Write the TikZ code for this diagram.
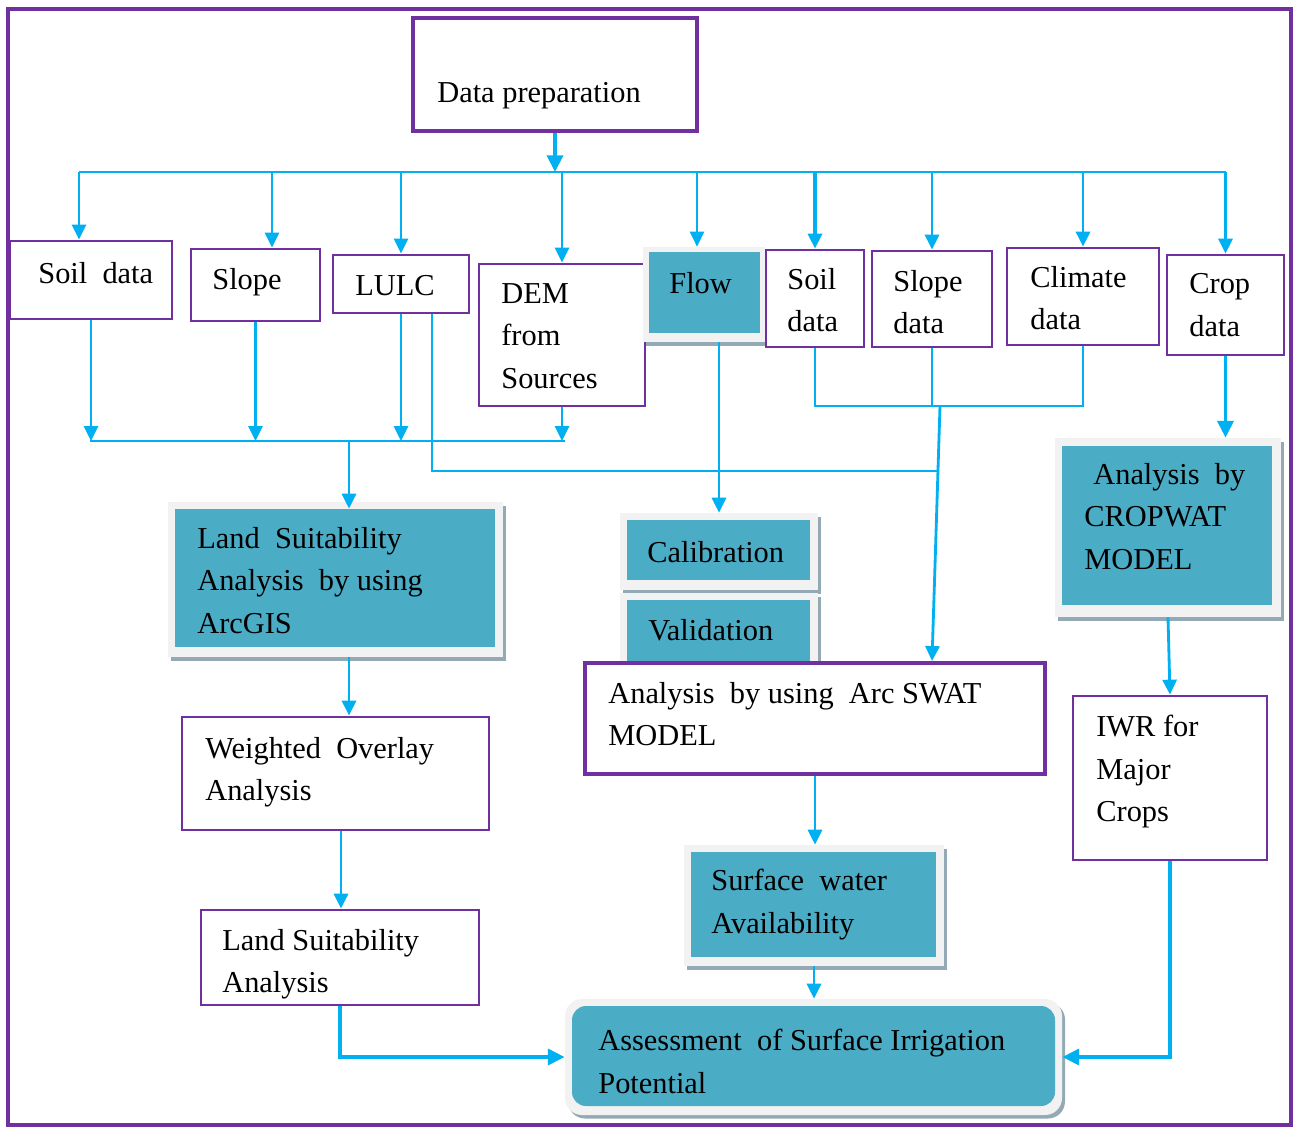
\documentclass[tikz,border=0pt]{standalone}
\usepackage{fontspec}
\setmainfont{Liberation Serif}
\usetikzlibrary{arrows.meta,fit,shadows}
\definecolor{pur}{HTML}{7030A0}
\definecolor{arrb}{HTML}{00B0F0}
\definecolor{tealf}{HTML}{4BACC6}
\definecolor{pgray}{HTML}{F2F2F2}
\definecolor{shad}{HTML}{93A9B5}
\begin{document}
\begin{tikzpicture}[x=0.02cm,y=-0.02cm,
 wbox/.style={draw=pur,line width=1.6pt,fill=white,inner sep=0pt},
 tbox/.style={draw=pur,line width=2.8pt,fill=white,inner sep=0pt},
 panel/.style={fill=pgray,inner sep=0pt,drop shadow={shadow xshift=0.06cm,shadow yshift=-0.07cm,fill=shad,opacity=1}},
 rpanel/.style={panel,rounded corners=0.34cm},
 tealbox/.style={fill=tealf,inner sep=0pt},
 txt/.style={anchor=north west,inner sep=0pt,align=left,font=\fontsize{17.3}{24.2}\selectfont,execute at begin node={\rule{0pt}{0.48cm}}},
 ln/.style={draw=arrb,line width=1.3pt},
 arr/.style={ln,-{Triangle[length=8.5pt,width=8pt]}},
 arrT/.style={draw=arrb,line width=2.2pt,-{Triangle[length=9.5pt,width=9pt]}},
]
\useasboundingbox (0,0) rectangle (1295,1127);
\node[draw=pur,line width=2.8pt,inner sep=0pt,fit={(8,9)(1291,1125)}] (frame) {};

% --- top
\node[tbox,fit={(413,18)(697,131)}] (dp) {};
\node[txt] (dpt) at (437,78) {Data preparation};

% --- data row
\node[wbox,fit={(10,241)(172,319)}] (soil) {};
\node[txt] (soilt) at (38,259) {Soil\ \ data};
\node[wbox,fit={(191,249)(320,321)}] (slope) {};
\node[txt] (slopet) at (212,265) {Slope};
\node[wbox,fit={(333,255)(469,313)}] (lulc) {};
\node[txt] (lulct) at (355,271) {LULC};
\node[wbox,fit={(479,264)(645,406)}] (dem) {};
\node[txt] (demt) at (501,283) {DEM\\from\\Sources};
\node[panel,fit={(643,247)(765,342)}] (flowP) {};
\node[tealbox,fit={(649,252)(760,333)}] (flow) {};
\node[txt] (flowt) at (669,269) {Flow};
\node[wbox,fit={(766,250)(864,347)}] (soil2) {};
\node[txt] (soil2t) at (787,268) {Soil\\data};
\node[wbox,fit={(872,251)(992,347)}] (slope2) {};
\node[txt] (slope2t) at (893,270) {Slope\\data};
\node[wbox,fit={(1007,248)(1159,345)}] (clim) {};
\node[txt] (climt) at (1030,266) {Climate\\data};
\node[wbox,fit={(1167,255)(1284,355)}] (crop) {};
\node[txt] (cropt) at (1189,273) {Crop\\data};

% --- left column
\node[panel,fit={(168,502)(503,657)}] (lsaP) {};
\node[tealbox,fit={(175,509)(495,647)}] (lsa) {};
\node[txt] (lsat) at (197,527) {Land\ \ Suitability\\Analysis\ \ by using\\ArcGIS};
\node[wbox,fit={(182,717)(489,830)}] (wo) {};
\node[txt] (wot) at (205,737) {Weighted\ \ Overlay\\Analysis};
\node[wbox,fit={(201,910)(479,1005)}] (ls) {};
\node[txt] (lst) at (222,929) {Land Suitability\\Analysis};

% --- middle column
\node[panel,fit={(620,513)(818,590)}] (calP) {};
\node[tealbox,fit={(627,520)(810,580)}] (cal) {};
\node[txt] (calt) at (647,538) {Calibration};
\node[panel,fit={(620,593)(818,665)}] (valP) {};
\node[tealbox,fit={(627,600)(810,665)}] (val) {};
\node[txt] (valt) at (648,616) {Validation};
\node[tbox,line width=2.3pt,fit={(585,663)(1045,774)}] (swat) {};
\node[txt] (swatt) at (608,682) {Analysis\ \ by using\ \ Arc SWAT\\MODEL};
\node[panel,fit={(684,845)(944,966)}] (surfP) {};
\node[tealbox,fit={(691,852)(936,957)}] (surf) {};
\node[txt] (surft) at (711,869) {Surface\ \ water\\Availability};
\node[rpanel,fit={(565,999)(1062,1115)}] (assP) {};
\node[tealbox,rounded corners=0.28cm,fit={(572,1006)(1055,1106)}] (ass) {};
\node[txt] (asst) at (598,1029) {Assessment\ \ of Surface\ Irrigation\\Potential};

% --- right column
\node[panel,fit={(1055,438)(1281,617)}] (cwP) {};
\node[tealbox,fit={(1062,446)(1272,605)}] (cw) {};
\node[txt] (cwt) at (1084,463) {\hspace{0.18cm}Analysis\ \ by\\CROPWAT\\MODEL};
\node[wbox,fit={(1073,696)(1267,860)}] (iwr) {};
\node[txt] (iwrt) at (1096,715) {IWR for\\Major\\Crops};

% --- connectors: top bus
\coordinate (b1) at (79,172);
\coordinate (b2) at (272,172);
\coordinate (b9) at (1226,172);
\coordinate (bf) at (697,172);
\draw[arrT] (dp.south) -- (dp.south |- b1);
\draw[ln] (b1) -- (b9);
\draw[arr] (b1) -- (b1 |- soil.north);
\draw[arr] (b2) -- (b2 |- slope.north);
\draw[arr] (lulc.north |- b1) -- (lulc.north);
\draw[arr] (dem.north |- b1) -- (dem.north);
\draw[arr] (bf) -- (bf |- flowP.north);
\draw[arr,line width=1.9pt] (soil2.north |- b1) -- (soil2.north);
\draw[arr,line width=1.6pt] (slope2.north |- b1) -- (slope2.north);
\draw[arr,line width=1.6pt] (clim.north |- b1) -- (clim.north);
\draw[arr,line width=1.6pt] (crop.north |- b1) -- (crop.north);

% --- left bus
\coordinate (l1) at (90,441);
\coordinate (l2) at (565,441);
\coordinate (l3) at (349,441);
\draw[ln] (l1) -- (l2);
\draw[arr] (soil.south) -- (soil.south |- l1);
\draw[arr] (slope.south) -- (slope.south |- l1);
\draw[arr] (lulc.south) -- (lulc.south |- l1);
\draw[arr] (dem.south) -- (dem.south |- l1);
\draw[arr,line width=1.6pt] (l3) -- (l3 |- lsa.north);
\draw[arr,line width=1.6pt] (l3 |- lsaP.south) -- (l3 |- wo.north);
\coordinate (c341) at (341,900);
\draw[arr,line width=1.6pt] (c341 |- wo.south) -- (c341 |- ls.north);
\draw[arrT] (ls.south) -- (ls.south |- assP.west) -- (assP.west);

% --- LULC branch and right group
\coordinate (m1) at (432,471);
\coordinate (m2) at (938,471);
\draw[ln] (m1 |- lulc.south) -- (m1) -- (m2);
\coordinate (r1) at (815,406);
\coordinate (r2) at (1083,406);
\coordinate (r3) at (940,406);
\coordinate (r4) at (932,660);
\draw[ln] (soil2.south) -- (r1) -- (r2) -- (clim.south);
\draw[ln] (slope2.south) -- (slope2.south |- r1);
\draw[arr,line width=1.6pt] (r3) -- (r4 |- swat.north);

% --- flow / swat / surface
\coordinate (f1) at (719,400);
\draw[arr,line width=1.6pt] (f1 |- flowP.south) -- (f1 |- calP.north);
\draw[arr,line width=1.6pt] (swat.south) -- (swat.south |- surfP.north);
\draw[arr,line width=1.6pt] (surfP.south) -- (surfP.south |- assP.north);

% --- right column connectors
\draw[arrT] (crop.south) -- (crop.south |- cwP.north);
\draw[arr,line width=1.6pt] (cwP.south) -- (iwr.north);
\draw[arrT] (iwr.south) -- (iwr.south |- assP.east) -- (assP.east);
\end{tikzpicture}
\end{document}
